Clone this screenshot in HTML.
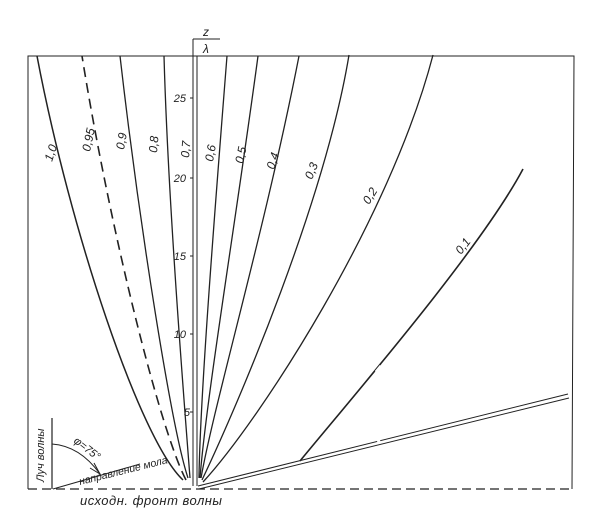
<!DOCTYPE html>
<html><head><meta charset="utf-8"><style>
html,body{margin:0;padding:0;background:#fff;}
svg{display:block;}
text{font-family:"Liberation Sans",sans-serif;font-style:italic;fill:#222;}
</style></head><body>
<svg width="604" height="525" viewBox="0 0 604 525" xmlns="http://www.w3.org/2000/svg">
<g fill="none" stroke="#222" stroke-width="1.3">
<path d="M28,489 L28,56 L574,56 L572,489" stroke-width="1"/>
<path d="M28,489 L572,489" stroke-dasharray="9,5" stroke-width="1.2"/>
<path d="M193,39 L193,486 M197,56 L197,486" stroke-width="1"/>
<path d="M193,39 L220,39" stroke-width="1"/>
<path d="M190,98 L193,98 M190,178 L193,178 M190,256 L193,256 M190,334 L193,334 M190,412 L193,412" stroke-width="1"/>
<path d="M183,480 C140,440 70,230 37,56" stroke-width="1.5"/>
<path d="M186,480 C160,430 110,230 82,56" stroke-width="1.6" stroke-dasharray="10,6"/>
<path d="M188,478 C172,430 140,230 120,56"/>
<path d="M190,478 C184,400 168,200 164,56"/>
<path d="M199,478 C200,400 214,220 227,56"/>
<path d="M200,478 C206,400 236,220 258,56"/>
<path d="M201,478 C215,400 265,230 299,56"/>
<path d="M202,480 C240,400 325,200 349,55"/>
<path d="M203,482 C260,420 390,220 433,55"/>
<path d="M300,461 C350,400 480,250 523,169" stroke-width="1.6"/>
<path d="M198,486 L568,394 M199,489 L569,398" stroke-width="1"/>
<path d="M52,418 L52,489" stroke-width="1.2"/>
<path d="M53,489 L140,464" stroke-width="1"/>
<path d="M52,444 Q80,446 100,474" stroke-width="1"/>
<path d="M94,463 L100,474 L90,468" stroke-width="1"/>
</g>
<!-- small gaps -->
<g stroke="#fff" stroke-width="3">
<path d="M376,372 L381,366"/>
<path d="M377,441 L380,440"/>
</g>
<g font-size="12">
<text x="206" y="36" text-anchor="middle" font-style="normal">z</text>
<text x="206" y="53" text-anchor="middle" font-style="normal">λ</text>
<text x="186" y="102" text-anchor="end" font-size="11">25</text>
<text x="186" y="182" text-anchor="end" font-size="11">20</text>
<text x="186" y="260" text-anchor="end" font-size="11">15</text>
<text x="186" y="338" text-anchor="end" font-size="11">10</text>
<text x="190" y="416" text-anchor="end" font-size="11">5</text>
<text transform="translate(52,162) rotate(-72)">1,0</text>
<text transform="translate(90,152) rotate(-78)">0,95</text>
<text transform="translate(124,150) rotate(-80)">0,9</text>
<text transform="translate(157,153) rotate(-85)">0,8</text>
<text transform="translate(189,158) rotate(-85)">0,7</text>
<text transform="translate(213,162) rotate(-80)">0,6</text>
<text transform="translate(243,164) rotate(-78)">0,5</text>
<text transform="translate(274,170) rotate(-72)">0,4</text>
<text transform="translate(312,180) rotate(-68)">0,3</text>
<text transform="translate(369,205) rotate(-58)">0,2</text>
<text transform="translate(461,255) rotate(-52)">0,1</text>
<text transform="translate(44,482) rotate(-90)" font-size="11">Луч волны</text>
<text transform="translate(73,442) rotate(38)" font-size="11">φ=75°</text>
<text transform="translate(80,485) rotate(-14)" font-size="10.5">направление мола</text>
<text x="80" y="505" font-size="13" letter-spacing="0.5">исходн.  фронт  волны</text>
</g>
</svg>
</body></html>
